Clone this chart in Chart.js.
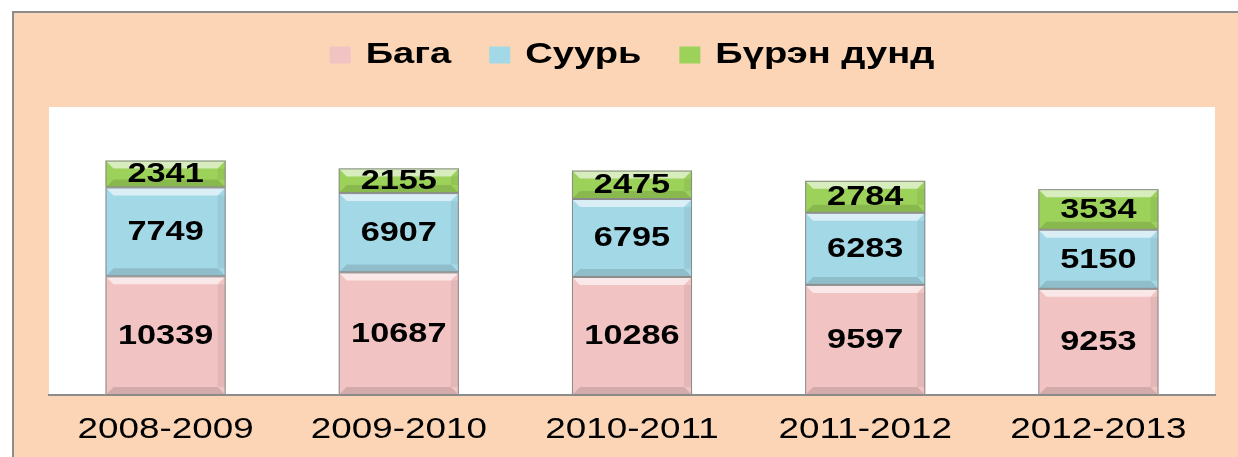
<!DOCTYPE html>
<html>
<head>
<meta charset="utf-8">
<script src="https://cdn.jsdelivr.net/npm/chart.js@4"></script>
<style>
  html, body { margin: 0; padding: 0; background: #ffffff; }
  #wrap { width: 1238px; height: 457px; }
</style>
</head>
<body>
<div id="wrap"><canvas id="myChart" width="1238" height="457"></canvas></div>
<script>
// chart values
var years = ["2008-2009", "2009-2010", "2010-2011", "2011-2012", "2012-2013"];
var baga = [10339, 10687, 10286, 9597, 9253];
var suuri = [7749, 6907, 6795, 6283, 5150];
var burenDund = [2341, 2155, 2475, 2784, 3534];
var seriesNames = ["Бага", "Суурь", "Бүрэн дунд"];

var colors = ["#f2c3c3", "#a3d8e6", "#9cd25a"];

// the original picture is stretched sideways, so the text is too
var STRETCH = 1.27;

var ctx = document.getElementById("myChart").getContext("2d");
var origFill = ctx.fillText;
var origMeasure = ctx.measureText;
ctx.fillText = function (t, x, y) {
  this.save();
  this.translate(x, y);
  this.scale(STRETCH, 1);
  origFill.call(this, t, 0, 0);
  this.restore();
};
ctx.measureText = function (t) {
  var m = origMeasure.call(this, t);
  return {
    width: m.width * STRETCH,
    actualBoundingBoxAscent: m.actualBoundingBoxAscent,
    actualBoundingBoxDescent: m.actualBoundingBoxDescent,
    actualBoundingBoxLeft: m.actualBoundingBoxLeft * STRETCH,
    actualBoundingBoxRight: m.actualBoundingBoxRight * STRETCH
  };
};

// peach frame and white plot area
var framePlugin = {
  id: "frame",
  beforeLayout: function (chart) {
    // extra room under the legend
    if (chart.legend && !chart.legend._patched) {
      var fit = chart.legend.fit;
      chart.legend.fit = function () {
        fit.call(this);
        this.height += 27;
      };
      chart.legend._patched = true;
    }
  },
  beforeDraw: function (chart) {
    var c = chart.ctx;
    var a = chart.chartArea;
    c.save();
    c.fillStyle = "#ffffff";
    c.fillRect(0, 0, chart.width, chart.height);
    c.fillStyle = "#fbd5b5";
    c.fillRect(12, 11, chart.width - 12, chart.height - 11);
    c.strokeStyle = "#8c8c8c";
    c.lineWidth = 2;
    c.beginPath();
    c.moveTo(13, chart.height);
    c.lineTo(13, 12);
    c.lineTo(chart.width, 12);
    c.stroke();
    c.fillStyle = "#ffffff";
    c.fillRect(a.left, a.top, a.right - a.left, a.bottom - a.top);
    c.restore();
  }
};

// bevel look and numbers inside the bars
var barLabels = {
  id: "barLabels",
  afterDatasetsDraw: function (chart) {
    var c = chart.ctx;
    c.save();
    chart.data.datasets.forEach(function (ds, i) {
      var meta = chart.getDatasetMeta(i);
      meta.data.forEach(function (bar, j) {
        var left = bar.x - bar.width / 2;
        var right = bar.x + bar.width / 2;
        var top = Math.min(bar.y, bar.base);
        var bottom = Math.max(bar.y, bar.base);
        var b = 8;
        c.fillStyle = "rgba(255,255,255,0.6)";
        c.beginPath();
        c.moveTo(left, top);
        c.lineTo(right, top);
        c.lineTo(right - b, top + b);
        c.lineTo(left + b, top + b);
        c.closePath();
        c.fill();
        c.fillStyle = "rgba(0,0,0,0.12)";
        c.beginPath();
        c.moveTo(left, bottom);
        c.lineTo(right, bottom);
        c.lineTo(right - b, bottom - b);
        c.lineTo(left + b, bottom - b);
        c.closePath();
        c.fill();
        c.fillStyle = "rgba(0,0,0,0.06)";
        c.fillRect(right - b, top + b, b, bottom - top - 2 * b);
        c.strokeStyle = "#8a8a8a";
        c.lineWidth = 1;
        c.strokeRect(left + 0.5, top + 0.5, bar.width - 1, bottom - top - 1);

        c.fillStyle = "#000000";
        c.font = "bold 27px 'Liberation Sans', Arial, sans-serif";
        c.textAlign = "center";
        c.textBaseline = "middle";
        c.fillText(String(ds.data[j]), bar.x, (top + bottom) / 2 + 1);
      });
    });
    c.restore();
  }
};

var myChart = new Chart(ctx, {
  type: "bar",
  data: {
    labels: years,
    datasets: [
      { label: seriesNames[0], data: baga, backgroundColor: colors[0] },
      { label: seriesNames[1], data: suuri, backgroundColor: colors[1] },
      { label: seriesNames[2], data: burenDund, backgroundColor: colors[2] }
    ]
  },
  options: {
    responsive: false,
    animation: false,
    layout: { padding: { left: 49, right: 23, top: 2, bottom: 0 } },
    datasets: {
      bar: { categoryPercentage: 1.0, barPercentage: 0.515, borderWidth: 0 }
    },
    scales: {
      x: {
        stacked: true,
        grid: { display: false, drawTicks: false },
        border: { display: true, color: "#8c8c8c", width: 2 },
        ticks: {
          color: "#000000",
          padding: 18,
          font: { family: "'Liberation Sans', Arial, sans-serif", size: 29 }
        },
        afterFit: function (scale) {
          scale.height = 62;
        }
      },
      y: {
        stacked: true,
        display: false,
        min: 0,
        max: 25100
      }
    },
    plugins: {
      tooltip: { enabled: false },
      legend: {
        position: "top",
        labels: {
          color: "#000000",
          boxWidth: 21,
          boxHeight: 17,
          padding: 38,
          font: { family: "'Liberation Sans', Arial, sans-serif", size: 30, weight: "bold" }
        }
      }
    }
  },
  plugins: [framePlugin, barLabels]
});
</script>
</body>
</html>
